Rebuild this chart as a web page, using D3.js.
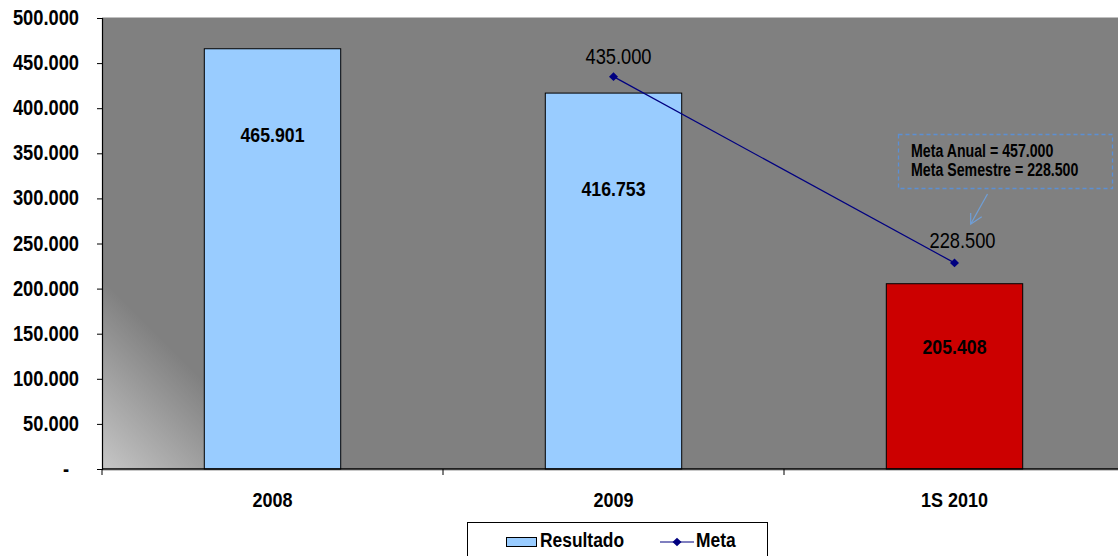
<!DOCTYPE html>
<html>
<head>
<meta charset="utf-8">
<script src="https://cdn.jsdelivr.net/npm/d3@7"></script>
<style>
  body { margin: 0; background: #fff; }
  svg { display: block; font-family: Arial, "Liberation Sans", sans-serif; }
</style>
</head>
<body>
<svg id="chart" width="1118" height="556"></svg>
<script>
// Chart data
const categories = ["2008", "2009", "1S 2010"];
const resultado = [465901, 416753, 205408];
const barColors = ["#99ccff", "#99ccff", "#cc0000"];
const metaCategories = ["2009", "1S 2010"];
const meta = [435000, 228500];
const yTicks = [0, 50000, 100000, 150000, 200000, 250000, 300000, 350000, 400000, 450000, 500000];
const noteLines = ["Meta Anual = 457.000", "Meta Semestre = 228.500"];

const fmt = v => v === 0 ? "-" : d3.format(",.0f")(v).replace(/,/g, ".");
const SY = 1.16; // slightly tall text rendering

const svg = d3.select("#chart");
const plot = { left: 102, top: 18, right: 1125, bottom: 469 };

const x = d3.scaleBand().domain(categories).range([plot.left, plot.right]);
const y = d3.scaleLinear().domain([0, 500000]).range([plot.bottom, plot.top]);

// helper: text placed at (px, py) baseline, stretched vertically
function tallText(sel, px, py, sx = 1, sy = SY) {
  return sel.attr("x", 0).attr("y", 0)
    .attr("transform", (d, i) => {
      const X = typeof px === "function" ? px(d, i) : px;
      const Y = typeof py === "function" ? py(d, i) : py;
      return `translate(${X},${Y}) scale(${sx},${sy})`;
    });
}

// plot background with corner gradient
const defs = svg.append("defs");
const grad = defs.append("linearGradient").attr("id", "bg")
  .attr("gradientUnits", "userSpaceOnUse")
  .attr("x1", plot.left).attr("y1", plot.bottom)
  .attr("x2", plot.left + 95).attr("y2", plot.bottom - 95);
grad.append("stop").attr("offset", 0).attr("stop-color", "#c6c6c6");
grad.append("stop").attr("offset", 1).attr("stop-color", "#808080");

svg.append("rect")
  .attr("x", plot.left).attr("y", plot.top)
  .attr("width", plot.right - plot.left).attr("height", plot.bottom - plot.top)
  .attr("fill", "url(#bg)");
svg.append("line").attr("x1", plot.left).attr("x2", 1118)
  .attr("y1", plot.top - 0.5).attr("y2", plot.top - 0.5)
  .attr("stroke", "#c0c0c0").attr("stroke-width", 1);
svg.append("line").attr("x1", plot.left).attr("x2", 1118)
  .attr("y1", plot.bottom + 1.5).attr("y2", plot.bottom + 1.5)
  .attr("stroke", "#c8c8c8").attr("stroke-width", 1);

// bars
const barW = x.bandwidth() * 0.4;
svg.append("g").selectAll("rect").data(categories).join("rect")
  .attr("x", d => x(d) + (x.bandwidth() - barW) / 2)
  .attr("y", (d, i) => y(resultado[i]))
  .attr("width", barW)
  .attr("height", (d, i) => y(0) - y(resultado[i]))
  .attr("fill", (d, i) => barColors[i])
  .attr("stroke", "#000").attr("stroke-width", 1);

// bar value labels in the upper part of each bar
const labelFrac = [0.797, 0.745, 0.659];
tallText(
  svg.append("g").selectAll("text").data(categories).join("text"),
  d => x(d) + x.bandwidth() / 2,
  (d, i) => y(resultado[i] * labelFrac[i]) + 7.5)
  .attr("text-anchor", "middle")
  .attr("font-size", 17.7).attr("font-weight", "bold").attr("fill", "#000")
  .text((d, i) => fmt(resultado[i]));

// y axis
const yAxis = d3.axisLeft(y).tickValues(yTicks).tickSize(5).tickPadding(18).tickFormat(fmt);
const gy = svg.append("g").attr("transform", `translate(${plot.left},0)`).call(yAxis);
gy.select(".domain").attr("stroke", "#000").attr("stroke-width", 1.2);
gy.selectAll(".tick line").attr("stroke", "#000");
gy.selectAll(".tick text").attr("font-size", 18.3).attr("font-weight", "bold")
  .attr("font-family", "Arial, 'Liberation Sans', sans-serif").attr("fill", "#000")
  .attr("dy", null).attr("y", 0)
  .attr("dx", d => d === 0 ? -10 : 0)
  .attr("transform", `translate(0,6.5) scale(1,${SY})`);

// x axis
const xAxis = d3.axisBottom(x).tickSize(0).tickFormat(() => "");
const gx = svg.append("g").attr("transform", `translate(0,${plot.bottom})`).call(xAxis);
gx.select(".domain").remove();
gx.selectAll(".tick text").remove();
gx.append("line").attr("x1", plot.left).attr("x2", 1118).attr("y1", 0).attr("y2", 0)
  .attr("stroke", "#000").attr("stroke-width", 1.5);
tallText(
  gx.selectAll(".tick").append("text"), 0, 37.5)
  .attr("text-anchor", "middle")
  .attr("font-size", 18).attr("font-weight", "bold").attr("fill", "#000")
  .attr("font-family", "Arial, 'Liberation Sans', sans-serif")
  .text(d => d);
// category boundary ticks
gx.append("g").selectAll("line").data(categories).join("line")
  .attr("x1", d => x(d)).attr("x2", d => x(d))
  .attr("y1", 0).attr("y2", 6).attr("stroke", "#000");

// meta line
const mx = d => x(d) + x.bandwidth() / 2;
const line = d3.line().x(d => mx(d[0])).y(d => y(d[1]));
const metaPts = metaCategories.map((c, i) => [c, meta[i]]);
svg.append("path").datum(metaPts).attr("d", line)
  .attr("fill", "none").attr("stroke", "#000080").attr("stroke-width", 1.2);
const diamondPath = "M0,-4.3L4.5,0L0,4.3L-4.5,0Z";
svg.append("g").selectAll("path").data(metaPts).join("path")
  .attr("d", diamondPath)
  .attr("transform", d => `translate(${mx(d[0])},${y(d[1])})`)
  .attr("fill", "#000080");
// meta value labels
const metaLabelDx = [5, 8];
const metaLabelDy = [-12.5, -15];
tallText(
  svg.append("g").selectAll("text").data(metaPts).join("text"),
  (d, i) => mx(d[0]) + metaLabelDx[i],
  (d, i) => y(d[1]) + metaLabelDy[i])
  .attr("text-anchor", "middle")
  .attr("font-size", 18.3).attr("fill", "#000")
  .text(d => fmt(d[1]));

// annotation box
const note = svg.append("g");
note.append("rect").attr("x", 898.5).attr("y", 134.5).attr("width", 214).attr("height", 54)
  .attr("fill", "none").attr("stroke", "#5b8fd4").attr("stroke-width", 1.3)
  .attr("stroke-dasharray", "4,3");
tallText(
  note.selectAll("text").data(noteLines).join("text"),
  911, (d, i) => 157 + i * 19.3, 0.87, 1.12)
  .attr("font-size", 16.3).attr("font-weight", "bold").attr("fill", "#000")
  .text(d => d);
// arrow pointing to the semester goal
note.append("line").attr("x1", 987.5).attr("y1", 194).attr("x2", 971).attr("y2", 223.5)
  .attr("stroke", "#6f9fd8").attr("stroke-width", 1.2);
note.append("path").attr("d", "M970.7,213L970.7,224.2L981.7,216.7")
  .attr("fill", "none").attr("stroke", "#6f9fd8").attr("stroke-width", 1.2);

// legend
const lg = svg.append("g");
lg.append("rect").attr("x", 467.5).attr("y", 522.5).attr("width", 300).attr("height", 40)
  .attr("fill", "#fff").attr("stroke", "#000").attr("stroke-width", 1);
lg.append("rect").attr("x", 506.5).attr("y", 537.5).attr("width", 30).attr("height", 9)
  .attr("fill", "#99ccff").attr("stroke", "#000");
tallText(lg.append("text"), 540, 547.3)
  .attr("font-size", 17.4).attr("font-weight", "bold").attr("fill", "#000").text("Resultado");
lg.append("line").attr("x1", 660).attr("x2", 694).attr("y1", 542).attr("y2", 542)
  .attr("stroke", "#000080").attr("stroke-width", 1.2);
lg.append("path").attr("d", diamondPath).attr("transform", "translate(677,542)").attr("fill", "#000080");
tallText(lg.append("text"), 696, 547.3)
  .attr("font-size", 17.4).attr("font-weight", "bold").attr("fill", "#000").text("Meta");
</script>
</body>
</html>
